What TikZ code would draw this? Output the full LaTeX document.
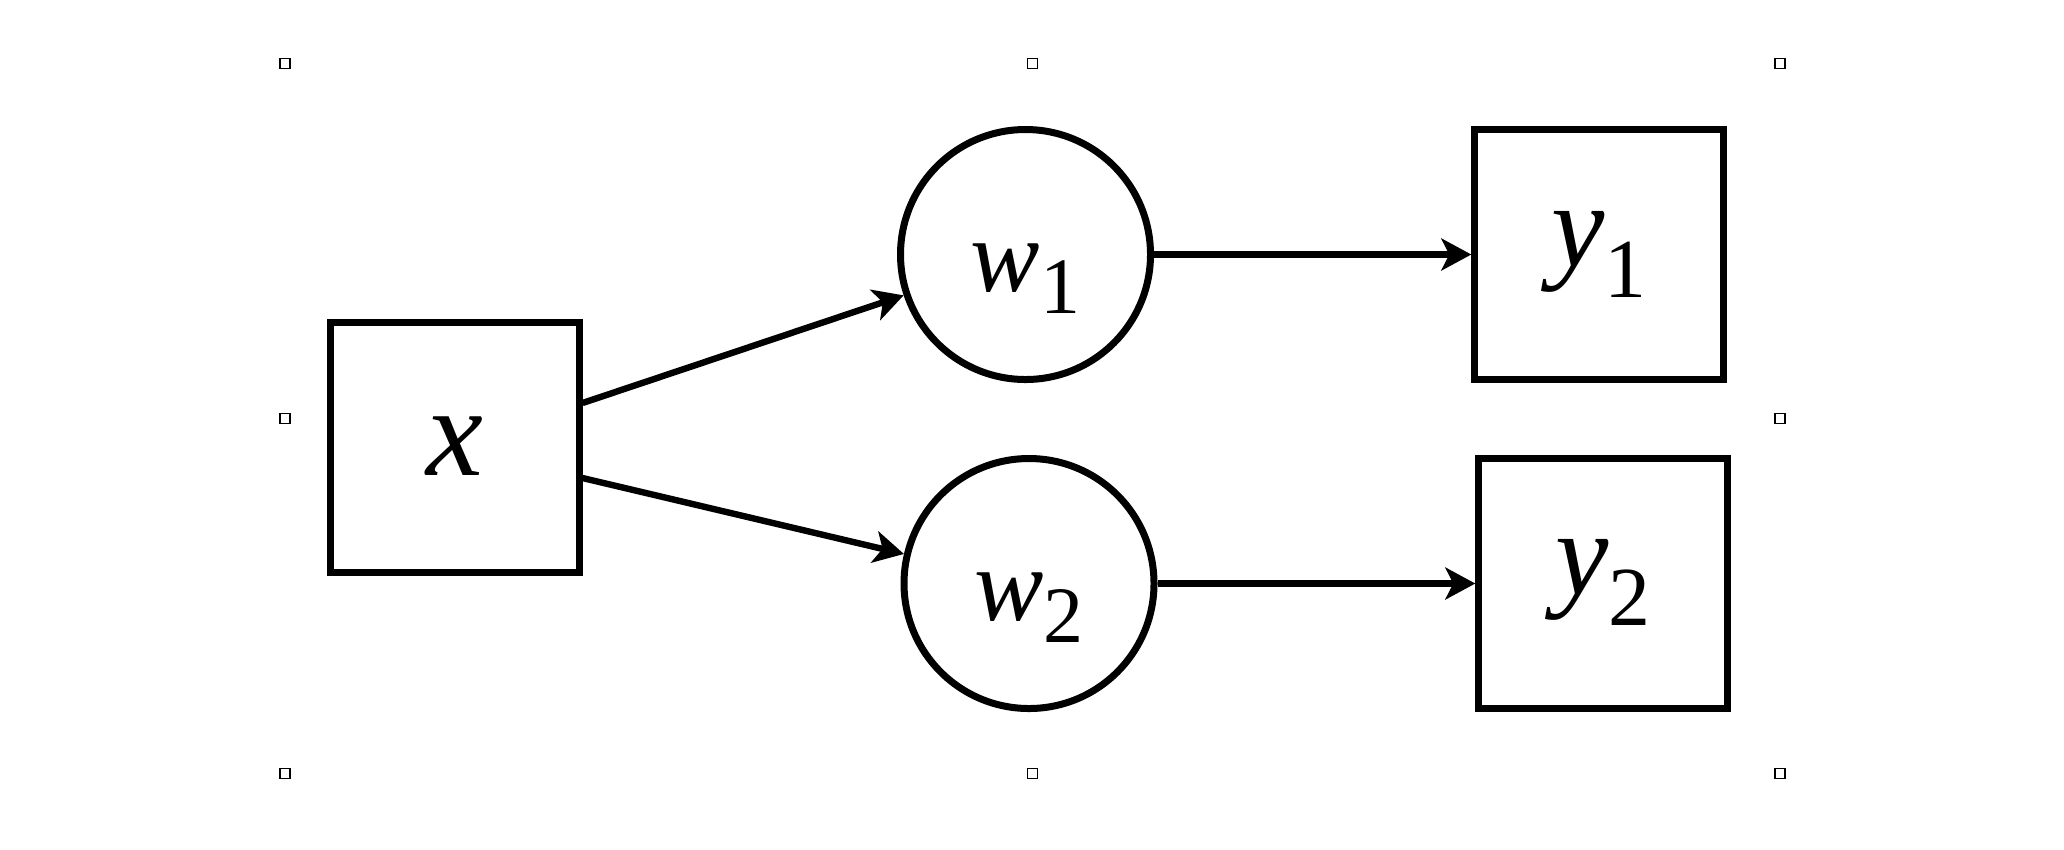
\documentclass[tikz,border=0pt]{standalone}
\usepackage{fontspec}
\setmainfont{Liberation Serif}
\usetikzlibrary{arrows.meta}
\newcommand{\mainlbl}[3]{{\fontsize{#1}{#1}\selectfont\itshape #2}#3}
\newcommand{\lowsub}[3]{\raisebox{-#1}{\fontsize{#2}{#2}\selectfont #3}}
\tikzset{
  boxnode/.style={draw, rectangle, line width=1.75pt, minimum width=62.25pt, minimum height=62.5pt, inner sep=0pt},
  circnode/.style={draw, circle, line width=1.75pt, minimum size=62.5pt, inner sep=0pt},
  conn/.style={line width=1.6pt, -{Stealth[length=7.5pt, width=8pt, inset=2pt]}},
  handle/.style={draw, rectangle, line width=0.3pt, minimum size=2.5pt, inner sep=0pt}
}
\begin{document}
\begin{tikzpicture}[x=0.25pt, y=-0.25pt]
\useasboundingbox (0,0) rectangle (2064,849);
% selection handles
\node[handle] (h1) at (285,63.5) {};
\node[handle] (h2) at (1032.5,63.5) {};
\node[handle] (h3) at (1780,63.5) {};
\node[handle] (h4) at (285,418.5) {};
\node[handle] (h5) at (1780,418.5) {};
\node[handle] (h6) at (285,773.5) {};
\node[handle] (h7) at (1032.5,773.5) {};
\node[handle] (h8) at (1780,773.5) {};
% nodes
\node[boxnode, text height=13.75pt, text depth=0pt] (x) at (454.5,447.5)
  {\mainlbl{32pt}{x}{}};
\node[circnode, text height=18.5pt, text depth=0pt] (w1) at (1025.5,254.5)
  {\mainlbl{26pt}{w}{\lowsub{5.5pt}{20pt}{1}}};
\node[circnode, text height=18.25pt, text depth=0pt] (w2) at (1029,583.5)
  {\mainlbl{26pt}{w}{\lowsub{5.5pt}{20pt}{2}}};
\node[boxnode, text height=15pt, text depth=9pt] (y1) at (1599.3,254.5)
  {\mainlbl{30pt}{y}{\lowsub{7.75pt}{21pt}{1}}};
\node[boxnode, text height=14.75pt, text depth=9.25pt] (y2) at (1603.3,583.5)
  {\mainlbl{30pt}{y}{\lowsub{7.75pt}{21pt}{2}}};
% connectors
\draw[conn] ([yshift=11.125pt]x.east) -- (w1);
\draw[conn] ([yshift=-7.625pt]x.east) -- (w2);
\draw[conn] (w1) -- (y1);
\draw[conn] (w2) -- (y2);
\end{tikzpicture}
\end{document}
